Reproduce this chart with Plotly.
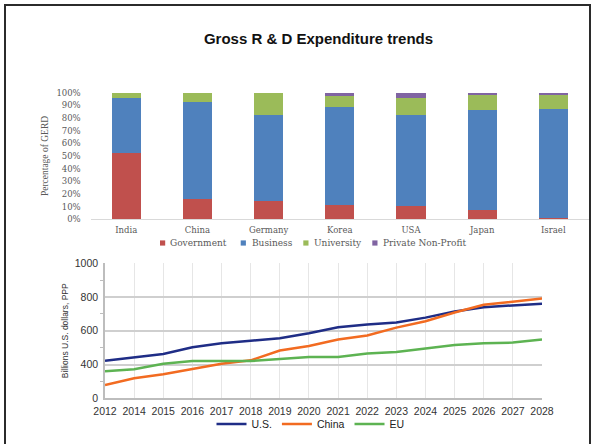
import plotly.graph_objects as go

W, H = 595, 444

# ---- R&D share by source of funds (percent of GERD) ----
countries = ["India", "China", "Germany", "Korea", "USA", "Japan", "Israel"]
government = [52.1, 15.8, 14.7, 11.3, 10.8, 7.6, 1.3]
business = [43.5, 76.9, 67.7, 77.6, 71.6, 78.7, 85.6]
university = [4.4, 7.3, 17.6, 8.7, 13.7, 11.9, 11.5]
private_np = [0.0, 0.0, 0.0, 2.4, 3.9, 1.8, 1.6]

# ---- Gross R&D expenditure, billions U.S. dollars PPP ----
years = ["2012", "2014", "2015", "2016", "2017", "2018", "2019", "2020",
         "2021", "2022", "2023", "2024", "2025", "2026", "2027", "2028"]
us = [423, 441, 463, 503, 526, 541, 556, 586, 621, 637, 649, 678, 714, 740, 750, 761]
china = [279, 319, 342, 374, 405, 425, 483, 510, 548, 572, 619, 657, 708, 754, 773, 791]
eu = [360, 372, 405, 421, 421, 421, 433, 445, 445, 465, 475, 497, 516, 526, 530, 548]

y_tickvals = [200, 400, 600, 800, 1000]
y_ticktext = ["0", "400", "600", "800", "1000"]


def px_x(x):
    return x / W


def px_y(y):
    return 1 - y / H


SERIF = "DejaVu Serif"
SANS = "Liberation Sans, Arial"
GREY_TXT = "#595959"

fig = go.Figure()

bar_series = [
    ("Government", government, "#c0504d"),
    ("Business", business, "#4f81bd"),
    ("University", university, "#9bbb59"),
    ("Private Non-Profit", private_np, "#8064a2"),
]
for name, vals, color in bar_series:
    fig.add_trace(go.Bar(
        x=countries, y=vals, name=name,
        marker=dict(color=color, line=dict(width=0)),
        xaxis="x", yaxis="y", showlegend=False,
    ))

line_series = [
    ("U.S.", us, "#1f2d86"),
    ("China", china, "#f26b21"),
    ("EU", eu, "#5db352"),
]
for name, vals, color in line_series:
    fig.add_trace(go.Scatter(
        x=years, y=vals, name=name, mode="lines",
        line=dict(color=color, width=2.5),
        xaxis="x2", yaxis="y2", showlegend=True,
    ))

# Compact key under the stacked bars: small swatch + serif label per series
key_pos = [(160, 168), (240.7, 250), (303.3, 311.7), (372.3, 380.7)]
key_y = 243
shapes = []
annotations = []
for (name, _, color), (sx, tx) in zip(bar_series, key_pos):
    shapes.append(dict(
        type="rect", xref="paper", yref="paper",
        x0=px_x(sx), x1=px_x(sx + 5.2),
        y0=px_y(key_y + 2.6), y1=px_y(key_y - 2.6),
        line=dict(width=0), fillcolor=color,
    ))
    annotations.append(dict(
        text=name, xref="paper", yref="paper",
        x=px_x(tx), y=px_y(key_y), xanchor="left", yanchor="middle",
        showarrow=False,
        font=dict(family=SERIF, size=9, color=GREY_TXT),
    ))

# Page frame
shapes.append(dict(
    type="rect", xref="paper", yref="paper",
    x0=px_x(5), x1=px_x(590), y0=-0.05, y1=px_y(5),
    line=dict(color="#2b2b2b", width=2), fillcolor="rgba(0,0,0,0)",
    layer="above",
))

fig.update_layout(
    width=W, height=H,
    margin=dict(l=0, r=0, t=0, b=0, pad=0, autoexpand=False),
    paper_bgcolor="white", plot_bgcolor="white",
    barmode="stack", bargap=0.59,
    title=dict(
        text="<b>Gross R &amp; D Expenditure trends</b>",
        font=dict(family=SANS, size=15, color="#111"),
        xref="paper", yref="paper",
        x=px_x(318.5), xanchor="center",
        y=px_y(39), yanchor="middle",
    ),
    xaxis=dict(
        domain=[px_x(90.7), px_x(588.9)],
        type="category", anchor="y", automargin=False,
        showline=True, linecolor="#d9d9d9", linewidth=1,
        showgrid=False, ticks="", ticklabelstandoff=2,
        tickfont=dict(family=SERIF, size=8.5, color=GREY_TXT),
    ),
    yaxis=dict(
        domain=[px_y(219.3), px_y(92.7)],
        range=[0, 100], dtick=10, ticksuffix="%",
        anchor="x", automargin=False,
        showline=False, showgrid=False, zeroline=False, ticks="",
        ticklabelstandoff=9,
        tickfont=dict(family=SERIF, size=8.5, color=GREY_TXT),
        title=dict(text="Percentage of GERD",
                   font=dict(family="Liberation Serif", size=9.5, color=GREY_TXT),
                   standoff=6),
    ),
    xaxis2=dict(
        domain=[px_x(105), px_x(542)],
        type="category", anchor="y2", automargin=False,
        range=[0, len(years) - 1],
        tickmode="array", tickvals=years,
        showline=True, linecolor="#bdbdbd", linewidth=1.5,
        showgrid=True, gridcolor="#e6e6e6", gridwidth=1,
        ticks="", ticklabelstandoff=2,
        tickfont=dict(family=SANS, size=10.5, color="#333"),
    ),
    yaxis2=dict(
        domain=[px_y(398.3), px_y(263.3)],
        range=[200, 1000], anchor="x2", automargin=False,
        tickmode="array", tickvals=y_tickvals, ticktext=y_ticktext,
        showline=True, linecolor="#bdbdbd", linewidth=1.5,
        showgrid=True, gridcolor="#cfcfcf", gridwidth=1.5,
        zeroline=False, ticks="", ticklabelstandoff=3,
        minor=dict(tickvals=[300, 500, 700, 900], ticks="outside",
                   ticklen=3, tickcolor="#bdbdbd", showgrid=False),
        tickfont=dict(family=SANS, size=10.5, color="#333"),
        title=dict(text="Billions U.S. dollars, PPP",
                   font=dict(family=SANS, size=8.5, color="#333"),
                   standoff=5),
    ),
    legend=dict(
        orientation="h", xref="paper", yref="paper",
        x=px_x(310.5), xanchor="center",
        y=px_y(424), yanchor="middle",
        itemwidth=30, traceorder="normal",
        font=dict(family=SANS, size=10.5, color="#222"),
        bgcolor="rgba(0,0,0,0)",
    ),
    shapes=shapes,
    annotations=annotations,
)

fig.write_html("out.html")
